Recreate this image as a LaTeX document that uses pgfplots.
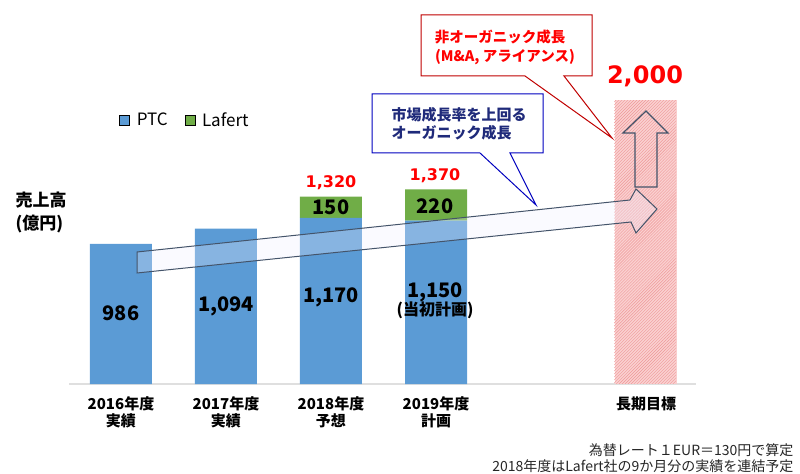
\documentclass[border=0pt]{standalone}
\usepackage{pgfplots}
\pgfplotsset{compat=1.18}
\usetikzlibrary{patterns}
\usepackage{fontspec}
\setmainfont{Noto Sans CJK JP}
\newfontfamily\numfont{DejaVu Sans}
\definecolor{ptc}{HTML}{5B9BD5}
\definecolor{laf}{HTML}{70AD47}
\definecolor{tgt}{HTML}{FAD0D0}
\definecolor{hatch}{HTML}{EE9898}
\definecolor{slate}{HTML}{44546A}
\definecolor{navy}{HTML}{1F2A7A}
\definecolor{cred}{HTML}{C00000}
\definecolor{bred}{HTML}{FF0000}
\tikzset{blab/.style={font=\bfseries\fontsize{20bp}{22bp}\selectfont, text=black}}
\begin{document}
\begin{tikzpicture}
\path[use as bounding box] (0,0) rectangle (800bp,474bp);
\begin{axis}[
 at={(69bp,90bp)}, anchor=south west,
 scale only axis, width=627bp, height=355bp,
 xmin=-0.495, xmax=5.476, ymin=0, ymax=2500,
 ybar stacked, bar width=62bp,
 axis y line=none, axis x line*=bottom,
 x axis line style={draw=gray!25, line width=1.2bp},
 xtick={0,1,2,3,5}, major tick length=0,
 xticklabels={{2016年度\\実績},{2017年度\\実績},{2018年度\\予想},{2019年度\\計画},{長期目標}},
 xticklabel style={align=center, font=\bfseries\fontsize{15bp}{17bp}\selectfont, yshift=-9bp},
 legend style={at={(0.08,0.744)}, anchor=west, draw=none, fill=none, inner sep=0pt,
   font=\fontsize{17bp}{19bp}\selectfont,
   /tikz/every odd column/.append style={column sep=5bp},
   /tikz/every even column/.append style={column sep=15bp}},
 legend columns=2,
 legend image code/.code={\draw[#1,/tikz/.cd,bar width=10bp,yshift=-5bp,bar shift=0pt] plot coordinates {(5bp,10bp)};},
 clip=false,
]
\addplot[fill=ptc, draw=none] coordinates {(0,986) (1,1094) (2,1170) (3,1150) (5,0)};
\addplot[fill=laf, draw=none] coordinates {(0,0) (1,0) (2,150) (3,220) (5,0)};
\addplot[fill=tgt, draw=none] coordinates {(0,0) (1,0) (2,0) (3,0) (5,2000)};
\legend{PTC, Lafert}
\end{axis}
\begin{scope}[x=1bp, y=-1bp, yshift=474bp]
% hatch over target bar
\fill[pattern=north east lines, pattern color=hatch] (614,101) rectangle (676,384);
% bar labels
\node[blab] at (121,313) {986};
\node[blab] at (226,306) {1,094};
\node[blab] at (331,297) {1,170};
\node[blab] at (435,292) {1,150};
\node[font=\bfseries\fontsize{16bp}{18bp}\selectfont] at (435,310) {(当初計画)};
\node[blab] at (331,207) {150};
\node[blab] at (435,206) {220};
\node[text=bred, font=\numfont\bfseries\fontsize{16bp}{18bp}\selectfont] at (331,183) {1,320};
\node[text=bred, font=\numfont\bfseries\fontsize{16bp}{18bp}\selectfont] at (435,176) {1,370};
\node[text=bred, font=\numfont\bfseries\fontsize{24bp}{26bp}\selectfont] at (645,76) {2,000};
% big growth arrow
\draw[slate, line width=1bp, fill=blue!6, fill opacity=0.3]
  (137,252) -- (630,200) -- (636,189) -- (657,209) -- (636,233) -- (631,222) -- (137,273) -- cycle;
% up arrow
\draw[slate, line width=1.2bp]
  (635,187) -- (635,133) -- (623,133) -- (646,111) -- (668,133) -- (657,133) -- (657,187) -- cycle;
% red callout
\draw[cred, line width=1bp, fill=white]
  (421,15) -- (592,15) -- (592,76) -- (564,76) -- (612,138) -- (525,76) -- (421,76) -- cycle;
\node[text=bred, font=\bfseries\fontsize{14.5bp}{17bp}\selectfont] at (500,37) {非オーガニック成長};
\node[text=bred, font=\bfseries\fontsize{14.5bp}{17bp}\selectfont] at (505,57) {(M\&A, アライアンス)};
% blue callout
\draw[blue!75!black, line width=1bp, fill=white]
  (372,94) -- (543,94) -- (543,153) -- (510,153) -- (536,205) -- (480,153) -- (372,153) -- cycle;
\node[anchor=west, text=navy, font=\bfseries\fontsize{15bp}{17bp}\selectfont] at (388,115) {市場成長率を上回る};
\node[anchor=west, text=navy, font=\bfseries\fontsize{15bp}{17bp}\selectfont] at (388,133) {オーガニック成長};
% y label
\node[anchor=west, align=left, font=\bfseries\fontsize{17bp}{23bp}\selectfont] at (12,212) {売上高\\(億円)};
% footnotes
\node[anchor=east, text=black!85, font=\fontsize{14bp}{16bp}\selectfont] at (797,450) {為替レート１EUR＝130円で算定};
\node[anchor=east, text=black!85, font=\fontsize{14bp}{16bp}\selectfont] at (797,466) {2018年度はLafert社の9か月分の実績を連結予定};
\end{scope}
\end{tikzpicture}
\end{document}
